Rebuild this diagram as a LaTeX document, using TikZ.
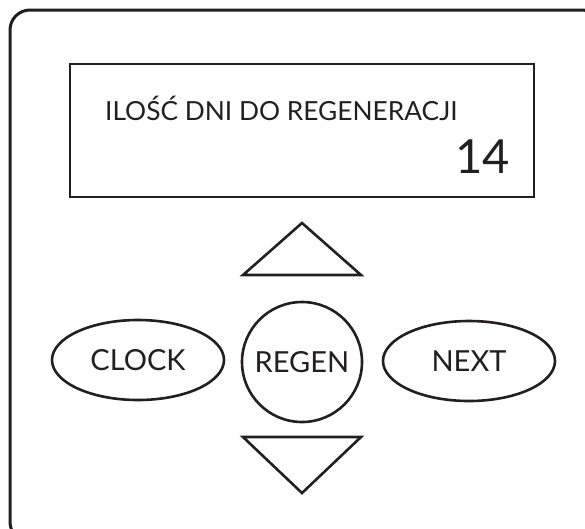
\documentclass[tikz,border=0pt]{standalone}
\usepackage{fontspec}
\setmainfont{Lato}
\usetikzlibrary{shapes.geometric,positioning}
\definecolor{ink}{RGB}{35,31,32}

\begin{document}
\begin{tikzpicture}[x=1pt,y=-1pt, every node/.style={text=ink,inner sep=0pt},
  panel/.style={draw=ink,line width=3pt,rounded corners=20pt},
  screen/.style={draw=ink,line width=2.7pt},
  key/.style={draw=ink,line width=2.6pt,ellipse,minimum width=172pt,minimum height=80pt,
              font=\fontsize{29}{29}\selectfont},
  regenkey/.style={draw=ink,line width=2.6pt,circle,minimum size=120pt,
              font=\fontsize{29}{29}\selectfont},
  arrowkey/.style={draw=ink,line width=2.6pt,line join=miter}]

\useasboundingbox (0,0) rectangle (585,528);
\clip (0,0) rectangle (585,528);

% housing, runs off past the right and bottom edges
\draw[panel] (10,10) rectangle (602,542);

% display
\draw[screen] (70,64) rectangle (534,197);
\node[anchor=base west,font=\fontsize{26.3}{26.3}\selectfont] (title) at (105,120)
  {ILOŚĆ DNI DO REGENERACJI};
\node[anchor=base east,font=\fontsize{47}{47}\selectfont] (days) at (510,173) {14};

% keypad
\node[regenkey] (regen) at (302,362) {REGEN};
\node[key] (clock) at (138,360) {CLOCK};
\node[key] (next) at (469,361) {NEXT};

\coordinate (upL) at (243,275);  \coordinate (upR) at (361,275);  \coordinate (upT) at (302,223);
\coordinate (dnL) at (243,437);  \coordinate (dnR) at (361,437);  \coordinate (dnT) at (302,493);
\draw[arrowkey] (upL) -- (upT) -- (upR) -- cycle;
\draw[arrowkey] (dnL) -- (dnT) -- (dnR) -- cycle;
\end{tikzpicture}
\end{document}
